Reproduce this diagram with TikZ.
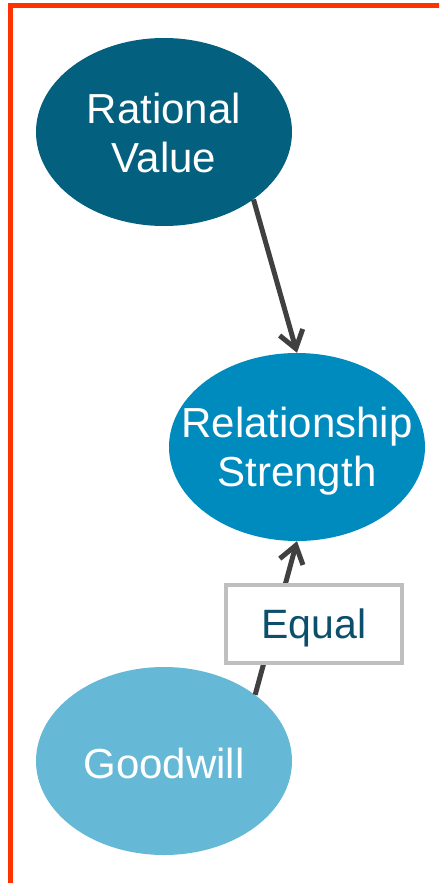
\documentclass[tikz,border=0pt]{standalone}
\usepackage{fontspec}
\setmainfont{Liberation Sans}
\usetikzlibrary{shapes.geometric,arrows.meta}
\definecolor{frameRed}{HTML}{FF3300}
\definecolor{darkTeal}{HTML}{03607F}
\definecolor{midBlue}{HTML}{008BBF}
\definecolor{lightBlue}{HTML}{66B8D7}
\definecolor{arrowGrey}{HTML}{404040}
\definecolor{boxGrey}{HTML}{BFBFBF}
\definecolor{labelTeal}{HTML}{0B4F6C}
\tikzset{
  bubble/.style={ellipse, draw=none, inner sep=0pt, minimum width=256pt, minimum height=188pt},
  bubbletext/.style={text=white, align=center, text depth=0pt, font=\fontsize{42}{49}\selectfont},
  conn/.style={draw=arrowGrey, line width=5pt, -{Straight Barb[length=17pt,width=24pt]}},
  eqbox/.style={draw=boxGrey, line width=4pt, fill=white, minimum width=176pt, minimum height=78pt,
    inner sep=0pt, text depth=0pt, text=labelTeal, font=\fontsize{41}{48}\selectfont},
}
\begin{document}
\begin{tikzpicture}[x=1pt,y=-1pt]
\useasboundingbox (0,0) rectangle (439,883);
\clip (0,0) rectangle (439,883);
% open frame running off the right and bottom edges
\draw[frameRed, line width=5pt] (10.8,5.5) rectangle (470,910);

% the three concepts
\node[bubble, fill=darkTeal] (rv) at (164,132) {};
\node[bubble, fill=midBlue] (rs) at (297,447) {};
\node[bubble, fill=lightBlue] (gw) at (164,761) {};
\node[bubbletext] (rvtext) at ([yshift=-1pt]rv.center) {Rational\\Value};
\node[bubbletext] (rstext) at (rs.center) {Relationship\\Strength};
\node[bubbletext] (gwtext) at ([yshift=-2pt]gw.center) {Goodwill};

% influences
\draw[conn] (rv.-37) -- (rs.north);
\draw[conn] (gw.36) -- (rs.south);

% relation label
\node[eqbox] (eq) at (314,624) {Equal};
\end{tikzpicture}
\end{document}
